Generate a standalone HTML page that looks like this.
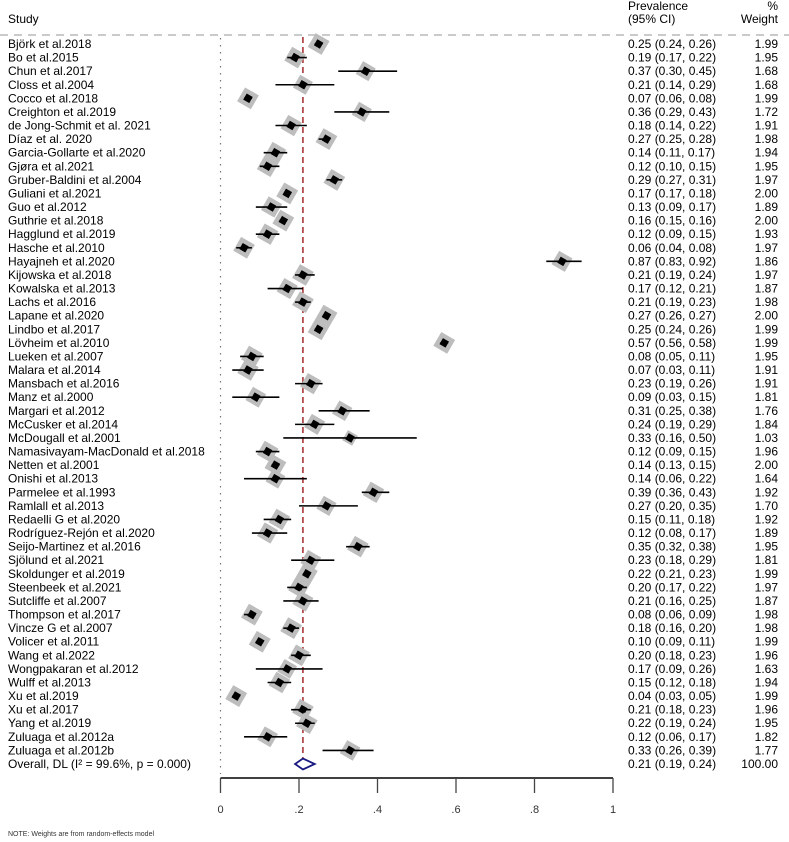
<!DOCTYPE html>
<html><head><meta charset="utf-8"><style>
html,body{margin:0;padding:0;background:#fff;}
svg{display:block;font-family:"Liberation Sans",Arial,sans-serif;}
</style></head><body>
<svg id="plot" width="789" height="842" viewBox="0 0 789 842">
<text x="8" y="23" font-size="12">Study</text>
<text x="628" y="10" font-size="12">Prevalence</text>
<text x="628" y="23" font-size="12">(95% CI)</text>
<text x="778" y="10" font-size="12" text-anchor="end">%</text>
<text x="778" y="23" font-size="12" text-anchor="end">Weight</text>
<line x1="0" y1="35" x2="789" y2="35" stroke="#b8b8b8" stroke-width="1.5" stroke-dasharray="8,6"/>
<g id="marks"></g>
<text x="8" y="836" font-size="7" fill="#333">NOTE: Weights are from random-effects model</text>
</svg>
<script>
const studies=["Björk et al.2018","Bo et al.2015","Chun et al.2017","Closs et al.2004","Cocco et al.2018","Creighton et al.2019","de Jong-Schmit et al. 2021","Díaz et al. 2020","Garcia-Gollarte et al.2020","Gjøra et al.2021","Gruber-Baldini et al.2004","Guliani et al.2021","Guo et al.2012","Guthrie et al.2018","Hagglund et al.2019","Hasche et al.2010","Hayajneh et al.2020","Kijowska et al.2018","Kowalska et al.2013","Lachs et al.2016","Lapane et al.2020","Lindbo et al.2017","Lövheim et al.2010","Lueken et al.2007","Malara et al.2014","Mansbach et al.2016","Manz et al.2000","Margari et al.2012","McCusker et al.2014","McDougall et al.2001","Namasivayam-MacDonald et al.2018","Netten et al.2001","Onishi et al.2013","Parmelee et al.1993","Ramlall et al.2013","Redaelli G et al.2020","Rodríguez-Rejón et al.2020","Seijo-Martinez et al.2016","Sjölund et al.2021","Skoldunger et al.2019","Steenbeek et al.2021","Sutcliffe et al.2007","Thompson et al.2017","Vincze G et al.2007","Volicer et al.2011","Wang et al.2022","Wongpakaran et al.2012","Wulff et al.2013","Xu et al.2019","Xu et al.2017","Yang et al.2019","Zuluaga et al.2012a","Zuluaga et al.2012b"];
const es=[0.25,0.19,0.37,0.21,0.07,0.36,0.18,0.27,0.14,0.12,0.29,0.17,0.13,0.16,0.12,0.06,0.87,0.21,0.17,0.21,0.27,0.25,0.57,0.08,0.07,0.23,0.09,0.31,0.24,0.33,0.12,0.14,0.14,0.39,0.27,0.15,0.12,0.35,0.23,0.22,0.20,0.21,0.08,0.18,0.10,0.20,0.17,0.15,0.04,0.21,0.22,0.12,0.33];
const lo=[0.24,0.17,0.30,0.14,0.06,0.29,0.14,0.25,0.11,0.10,0.27,0.17,0.09,0.15,0.09,0.04,0.83,0.19,0.12,0.19,0.26,0.24,0.56,0.05,0.03,0.19,0.03,0.25,0.19,0.16,0.09,0.13,0.06,0.36,0.20,0.11,0.08,0.32,0.18,0.21,0.17,0.16,0.06,0.16,0.09,0.18,0.09,0.12,0.03,0.18,0.19,0.06,0.26];
const hi=[0.26,0.22,0.45,0.29,0.08,0.43,0.22,0.28,0.17,0.15,0.31,0.18,0.17,0.16,0.15,0.08,0.92,0.24,0.21,0.23,0.27,0.26,0.58,0.11,0.11,0.26,0.15,0.38,0.29,0.50,0.15,0.15,0.22,0.43,0.35,0.18,0.17,0.38,0.29,0.23,0.22,0.25,0.09,0.20,0.11,0.23,0.26,0.18,0.05,0.23,0.24,0.17,0.39];
const weights=[1.99,1.95,1.68,1.68,1.99,1.72,1.91,1.98,1.94,1.95,1.97,2.00,1.89,2.00,1.93,1.97,1.86,1.97,1.87,1.98,2.00,1.99,1.99,1.95,1.91,1.91,1.81,1.76,1.84,1.03,1.96,2.00,1.64,1.92,1.70,1.92,1.89,1.95,1.81,1.99,1.97,1.87,1.98,1.98,1.99,1.96,1.63,1.94,1.99,1.96,1.95,1.82,1.77];
const overall=[0.21,0.19,0.24];
const overallLabel="Overall, DL (I² = 99.6%, p = 0.000)";
const xTicks=[0,0.2,0.4,0.6,0.8,1];
const xTickLabels=["0",".2",".4",".6",".8","1"];
const fmt=v=>v.toFixed(2);
const NS="http://www.w3.org/2000/svg";
const g=document.getElementById('marks');
const n=studies.length;
const y0=44, y1=764;
const step=(y1-y0)/n;
const X=v=>220.5+v*392.5;
const Y=i=>y0+i*step;
function mk(t,a){const e=document.createElementNS(NS,t);for(const k in a)e.setAttribute(k,a[k]);g.appendChild(e);return e;}
let e=mk('line',{x1:X(0),y1:38,x2:X(0),y2:774,stroke:'#777','stroke-width':1.2,'stroke-dasharray':'1.5,5.5'});


e=mk('line',{x1:X(overall[0]),y1:37,x2:X(overall[0]),y2:758,stroke:'#a52a2a','stroke-width':1.5,'stroke-dasharray':'6,4'});


for(let i=0;i<n;i++){
  const y=Y(i), cx=X(es[i]);
  const s=16*Math.sqrt(weights[i]/2);
  e=mk('rect',{x:cx-s/2,y:y-s/2,width:s,height:s,fill:'#bdbdbd',transform:`rotate(30 ${cx} ${y})`});
  
  
  e=mk('line',{x1:X(lo[i]),y1:y,x2:X(hi[i]),y2:y,stroke:'#000','stroke-width':1.6});
  
  
  e=mk('rect',{x:cx-3.5,y:y-3.5,width:7,height:7,fill:'#000',transform:`rotate(30 ${cx} ${y})`});
  
  
  e=mk('text',{x:8,y:y+4,'font-size':12});e.textContent=studies[i];
  
  
  e=mk('text',{x:628,y:y+4,'font-size':12});e.textContent=`${fmt(es[i])} (${fmt(lo[i])}, ${fmt(hi[i])})`;
  
  
  e=mk('text',{x:778,y:y+4,'font-size':12,'text-anchor':'end'});e.textContent=fmt(weights[i]);
  
  
}
const oy=Y(n);
e=mk('polygon',{points:`${X(overall[1])},${oy} ${X(overall[0])},${oy-5.5} ${X(overall[2])},${oy} ${X(overall[0])},${oy+5.5}`,fill:'#fff',stroke:'#1a1a80','stroke-width':1.8});


e=mk('text',{x:8,y:oy+4,'font-size':12});e.textContent=overallLabel;


e=mk('text',{x:628,y:oy+4,'font-size':12});e.textContent=`${fmt(overall[0])} (${fmt(overall[1])}, ${fmt(overall[2])})`;


e=mk('text',{x:778,y:oy+4,'font-size':12,'text-anchor':'end'});e.textContent="100.00";


e=mk('line',{x1:X(0),y1:778,x2:X(1),y2:778,stroke:'#000','stroke-width':1.5});


xTicks.forEach((t,k)=>{
  e=mk('line',{x1:X(t),y1:778,x2:X(t),y2:793,stroke:'#444','stroke-width':1.3});
  
  
  e=mk('text',{x:X(t),y:813,'font-size':11,'text-anchor':'middle',fill:'#333'});e.textContent=xTickLabels[k];
  
  
});
</script>
</body></html>
